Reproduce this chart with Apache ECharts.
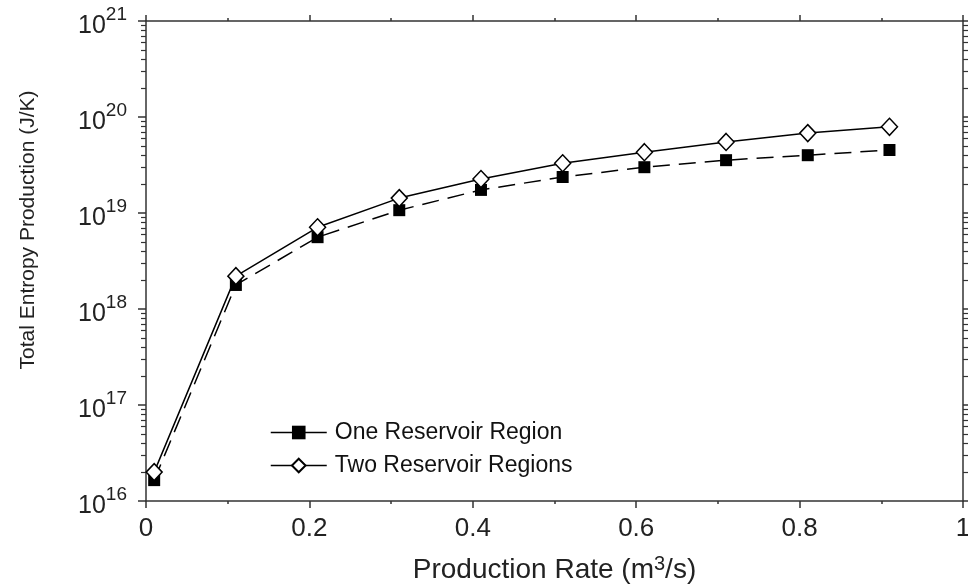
<!DOCTYPE html>
<html>
<head>
<meta charset="utf-8">
<script src="https://cdn.jsdelivr.net/npm/echarts@6/dist/echarts.min.js"></script>
<style>
  html, body { margin: 0; padding: 0; background: #fff; }
  #chart { width: 968px; height: 584px; }
</style>
</head>
<body>
<div id="chart"></div>
<script>
// Production rates (m^3/s)
const rates = [0.01, 0.11, 0.21, 0.31, 0.41, 0.51, 0.61, 0.71, 0.81, 0.91];
// Total entropy production (J/K)
const oneRegion = [1.65e16, 1.78e18, 5.6e18, 1.07e19, 1.74e19, 2.37e19, 3.0e19, 3.55e19, 4.0e19, 4.53e19];
const twoRegions = [2.0e16, 2.2e18, 7.1e18, 1.43e19, 2.26e19, 3.3e19, 4.3e19, 5.5e19, 6.8e19, 7.9e19];
const seriesNames = ['One Reservoir Region', 'Two Reservoir Regions'];
// Decade labels on the entropy axis
const decadeExponents = [16, 17, 18, 19, 20, 21];

const yMin = Math.pow(10, decadeExponents[0]);
const yMax = Math.pow(10, decadeExponents[decadeExponents.length - 1]);

// 2..9 x 10^n minor ticks for each decade
const minorLogTicks = [];
for (let e = decadeExponents[0]; e < decadeExponents[decadeExponents.length - 1]; e++) {
  for (let m = 2; m <= 9; m++) minorLogTicks.push(m * Math.pow(10, e));
}

const ink = '#222';
const frame = { show: true, lineStyle: { color: '#333', width: 1.5 } };
const font = 'Liberation Sans, Arial, sans-serif';

function pair(xs, ys) { return xs.map((x, i) => [x, ys[i]]); }

function decadeLabel(v) {
  const e = Math.round(Math.log10(v));
  return '{b|10}{s|' + e + '}';
}

const chart = echarts.init(document.getElementById('chart'), null, { renderer: 'canvas' });

chart.setOption({
  backgroundColor: '#fff',
  animation: false,
  textStyle: { fontFamily: font, color: ink },
  grid: { left: 146, right: 5, top: 21, bottom: 83, containLabel: false, outerBoundsMode: 'none' },
  legend: {
    orient: 'vertical',
    left: 265,
    top: 416,
    itemWidth: 56,
    itemHeight: 17,
    itemGap: 10,
    data: seriesNames,
    textStyle: { fontSize: 23, color: '#111', fontFamily: font, padding: [0, 0, 0, 3] },
    lineStyle: { type: 'solid', width: 1.5, color: '#000' }
  },
  xAxis: [
    {
      type: 'value', position: 'bottom', min: 0, max: 1, interval: 0.2,
      name: '{t|Production Rate (m}{s|3}{t|/s)}',
      nameLocation: 'middle', nameGap: 53,
      nameTextStyle: {
        rich: {
          t: { fontSize: 28, color: ink, fontFamily: font },
          s: { fontSize: 20, color: ink, fontFamily: font, verticalAlign: 'top', padding: [0, 0, 13, 0] }
        }
      },
      axisLine: frame,
      axisTick: { show: true, inside: false, length: 7, lineStyle: { color: '#333', width: 1.5 } },
      minorTick: { show: true, splitNumber: 2, length: 3, lineStyle: { color: '#333', width: 1.5 } },
      axisLabel: { fontSize: 26, color: ink, margin: 15, fontFamily: font },
      splitLine: { show: false }
    },
    {
      type: 'value', position: 'top', min: 0, max: 1, interval: 0.2,
      axisLine: frame,
      axisTick: { show: true, inside: false, length: 6, lineStyle: { color: '#333', width: 1.5 } },
      minorTick: { show: true, splitNumber: 2, length: 3, lineStyle: { color: '#333', width: 1.5 } },
      axisLabel: { show: false },
      splitLine: { show: false }
    }
  ],
  yAxis: [
    {
      type: 'log', logBase: 10, position: 'left', min: yMin, max: yMax,
      name: 'Total Entropy Production (J/K)',
      nameLocation: 'middle', nameGap: 107, nameRotate: 90,
      nameTextStyle: { fontSize: 21, color: ink, fontFamily: font, padding: [0, 0, 0, 62] },
      axisLine: frame,
      axisTick: { show: true, inside: false, length: 8, lineStyle: { color: '#333', width: 1.5 } },
      axisLabel: {
        margin: 19,
        formatter: decadeLabel,
        rich: {
          b: { fontSize: 25, color: ink, fontFamily: font, padding: [10, 0, 0, 0] },
          s: { fontSize: 19, color: ink, fontFamily: font, padding: [0, 0, 12, 0] }
        }
      },
      splitLine: { show: false }
    },
    {
      type: 'log', logBase: 10, position: 'left', min: yMin, max: yMax,
      axisLine: { show: false },
      axisTick: { show: true, inside: false, length: 5, customValues: minorLogTicks, lineStyle: { color: '#333', width: 1.2 } },
      axisLabel: { show: false },
      splitLine: { show: false }
    },
    {
      type: 'log', logBase: 10, position: 'right', min: yMin, max: yMax,
      axisLine: frame,
      axisTick: { show: true, inside: false, length: 5, lineStyle: { color: '#333', width: 1.5 } },
      axisLabel: { show: false },
      splitLine: { show: false }
    },
    {
      type: 'log', logBase: 10, position: 'right', min: yMin, max: yMax,
      axisLine: { show: false },
      axisTick: { show: true, inside: false, length: 5, customValues: minorLogTicks, lineStyle: { color: '#333', width: 1.2 } },
      axisLabel: { show: false },
      splitLine: { show: false }
    }
  ],
  series: [
    {
      name: seriesNames[0], type: 'line', xAxisIndex: 0, yAxisIndex: 0,
      data: pair(rates, oneRegion),
      symbol: 'rect', symbolSize: 12,
      itemStyle: { color: '#000', borderColor: '#000', borderWidth: 0 },
      lineStyle: { color: '#000', width: 1.5, type: [17, 9] },
      z: 3
    },
    {
      name: seriesNames[1], type: 'line', xAxisIndex: 0, yAxisIndex: 0,
      data: pair(rates, twoRegions),
      symbol: 'diamond', symbolSize: [16, 17],
      itemStyle: { color: '#fff', borderColor: '#000', borderWidth: 1.5 },
      lineStyle: { color: '#000', width: 1.5, type: 'solid' },
      z: 4
    }
  ]
});
</script>
</body>
</html>
